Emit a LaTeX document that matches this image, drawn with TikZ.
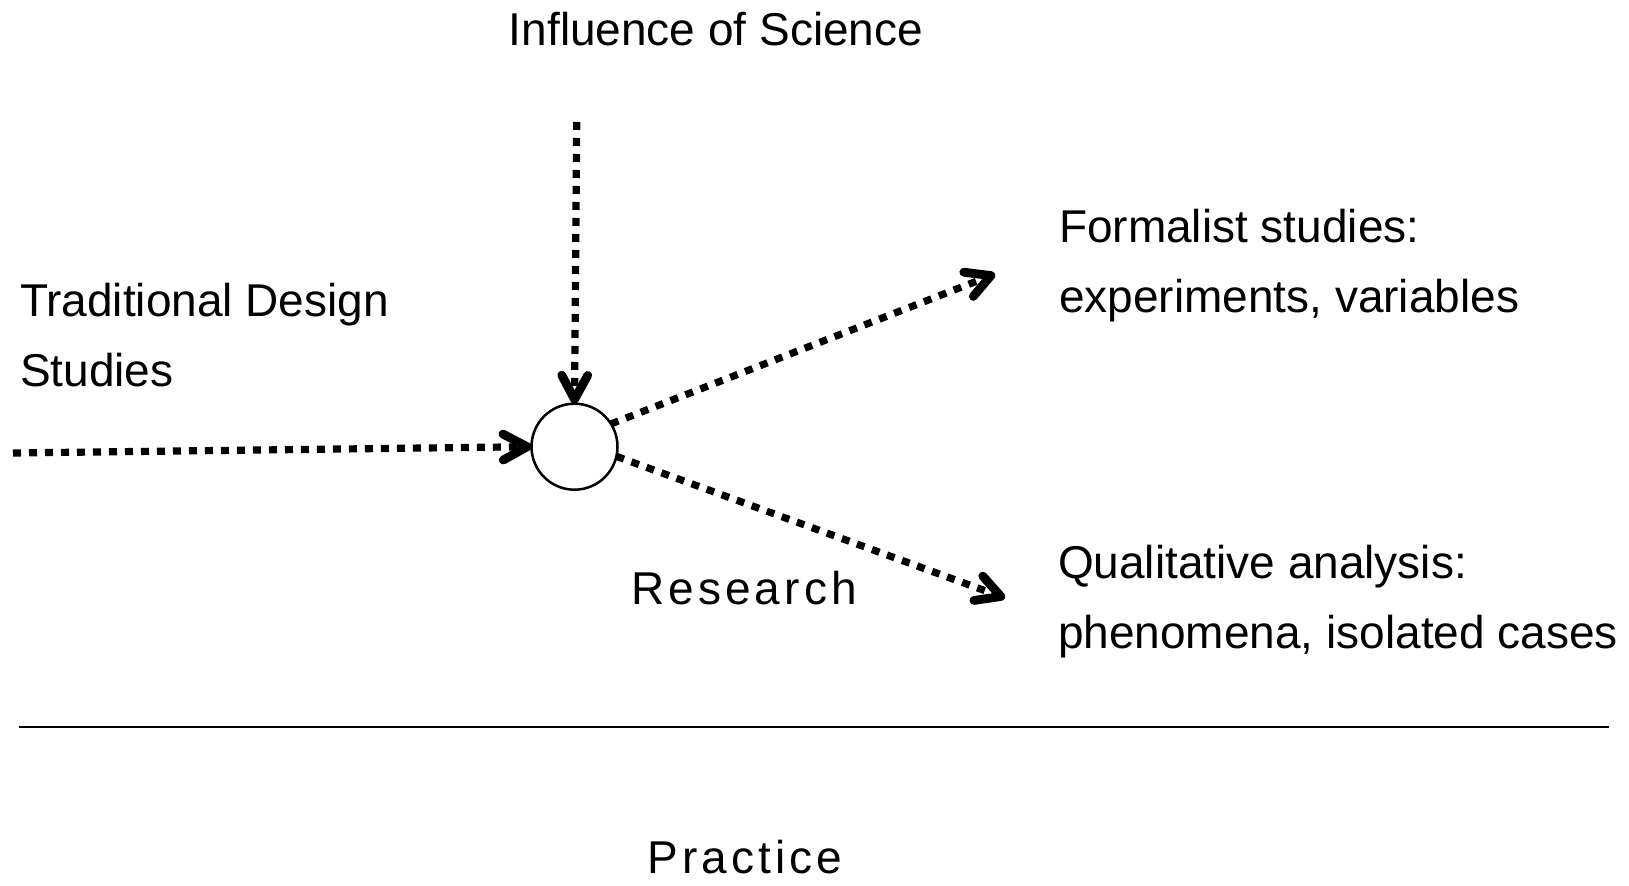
\documentclass[tikz,border=0pt]{standalone}
\usepackage{fontspec}
\setmainfont{Liberation Sans}
\newfontfamily\spacedfont[LetterSpace=9]{Liberation Sans}
\usetikzlibrary{arrows.meta}
\tikzset{
  txt/.style={inner sep=0pt, outer sep=0pt, font=\fontsize{23pt}{35.2pt}\selectfont},
  lbl/.style={inner sep=0pt, outer sep=0pt, font=\fontsize{23pt}{34.5pt}\selectfont\spacedfont},
  flow/.style={line width=3.6pt, dash pattern=on 4pt off 4pt,
    -{Straight Barb[length=12pt,width=13pt,line width=4.4pt,round]}},
  hub/.style={circle, draw, line width=1.25pt, minimum size=43pt, inner sep=0pt, outer sep=0pt}
}
\begin{document}
\begin{tikzpicture}[x=0.5pt,y=-0.5pt]
\useasboundingbox (0,0) rectangle (1629,886);
\node[txt, anchor=base] (sci) at (716,46) {Influence of Science};
\node[txt, anchor=base west, align=left] (trad) at (20,387) {Traditional Design\\Studies};
\node[txt, anchor=base west, align=left] (form) at (1059,313) {Formalist studies:\\experiments, variables};
\node[txt, anchor=base west, align=left] (qual) at (1058,649) {Qualitative analysis:\\phenomena, isolated cases};
\node[lbl, anchor=base] (res) at (744,605) {Research};
\node[lbl, anchor=base] (prac) at (745,873.3) {Practice};
\node[hub] (c) at (574.5,446.7) {};
\coordinate (tin) at (13,453);
\coordinate (sin) at (576.7,122);
\coordinate (fend) at (995,274);
\coordinate (qend) at (1005,598);
\coordinate (r1) at (19,727);
\coordinate (r2) at (1609,727);
\draw[flow] (tin) -- (c.west);
\draw[flow] (sin) -- (c.north);
\draw[flow] (c.32) -- (fend);
\draw[flow] (c.-13) -- (qend);
\draw[line width=1pt] (r1) -- (r2);
\end{tikzpicture}
\end{document}
